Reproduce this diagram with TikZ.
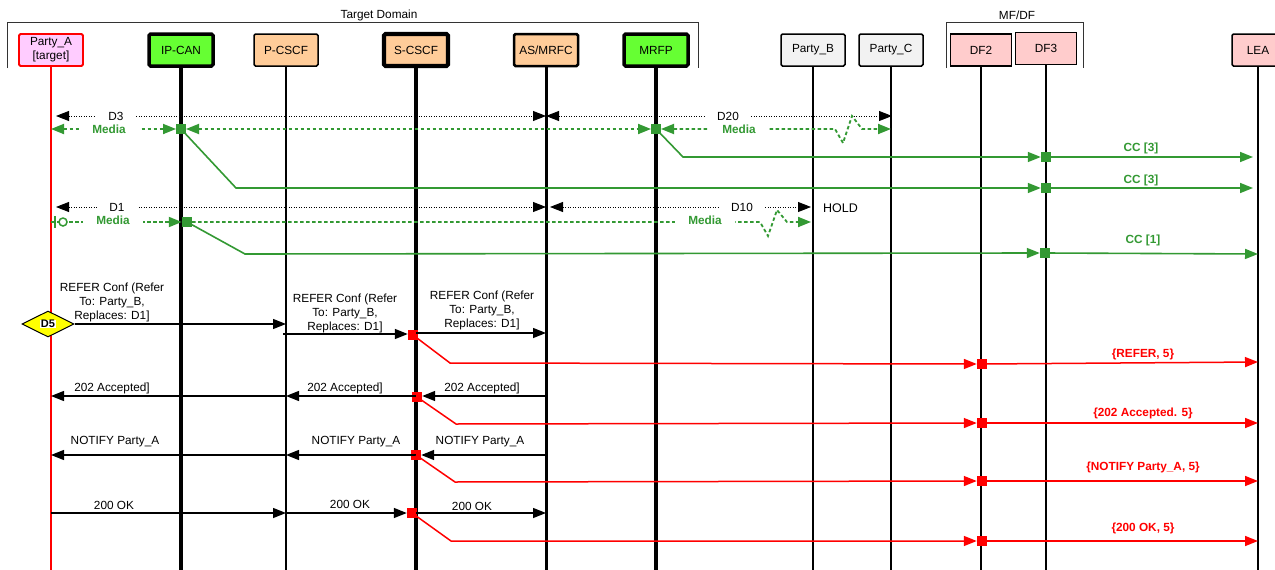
\documentclass[tikz,border=0pt]{standalone}
\usepackage{fontspec}
\setmainfont{Liberation Sans}
\usetikzlibrary{arrows.meta,shapes.geometric,calc}
\definecolor{gr}{RGB}{51,153,51}
\definecolor{grfill}{RGB}{102,255,51}
\definecolor{peach}{RGB}{255,204,153}
\definecolor{pinkA}{RGB}{255,204,255}
\definecolor{pinkD}{RGB}{255,204,204}
\definecolor{lgray}{RGB}{242,242,242}
\definecolor{dyellow}{RGB}{255,255,0}
\begin{document}
\begin{tikzpicture}[x=1pt,y=-1pt,
  every node/.style={font=\fontsize{11.8}{14}\selectfont},
  ent/.style={draw, rounded corners=1.5pt, minimum width=64pt, minimum height=32pt, inner sep=0pt, align=center},
  tipE/.style={-{Triangle[length=13pt,width=10pt]}},
  tipB/.style={{Triangle[length=13pt,width=10pt]}-{Triangle[length=13pt,width=10pt]}},
  msg/.style={line width=1.4pt},
  dotl/.style={line width=0.9pt, dash pattern=on 1.2pt off 1.3pt},
  gdash/.style={draw=gr, line width=1.8pt, dash pattern=on 3.5pt off 2.5pt},
  gline/.style={draw=gr, line width=1.6pt},
  rline/.style={draw=red, line width=1.5pt},
  gsq/.style={fill=gr, minimum size=10pt, inner sep=0pt},
  rsq/.style={fill=red, minimum size=10pt, inner sep=0pt},
  dlab/.style={fill=white, inner xsep=12pt, inner ysep=1pt},
  mlab/.style={fill=white, text=gr, font=\fontsize{11.8}{14}\selectfont\bfseries, inner xsep=13pt, inner ysep=1pt},
  lab/.style={inner sep=0pt, align=center},
  glab/.style={inner sep=0pt, text=gr, font=\fontsize{11.8}{14}\selectfont\bfseries},
  rlab/.style={inner sep=0pt, text=red, font=\fontsize{11.8}{14}\selectfont\bfseries},
]
\fill[white] (0,0) rectangle (1275,570);
\useasboundingbox (0,0) rectangle (1275,570);

% domain brackets
\draw[line width=1pt, black!80] (7,68) |- (698,22) -- (698,68);
\node (tdlab) at (379,15) {Target Domain};
\draw[line width=1pt, black!80] (946,68) |- (1083,22) -- (1083,68);
\node (mflab) at (1017,15) {MF/DF};

% entities
\node[ent, fill=pinkA, draw=red, line width=1.8pt] (pa) at (51,50) {Party\_A\\{}[target]};
\node[ent, fill=grfill, line width=3.5pt] (ipcan) at (181,50) {IP-CAN};
\node[ent, fill=peach, line width=1.5pt] (pcscf) at (286,50) {P-CSCF};
\node[ent, fill=peach, line width=4.2pt] (scscf) at (416,50) {S-CSCF};
\node[ent, fill=peach, line width=2.5pt] (asm) at (546,50) {AS/MRFC};
\node[ent, fill=grfill, line width=3.5pt] (mrfp) at (656,50) {MRFP};
\node[ent, fill=lgray, line width=1.5pt] (pb) at (813,50) {Party\_B};
\node[ent, fill=lgray, line width=1.5pt] (pc) at (891,50) {Party\_C};
\node[ent, fill=pinkD, line width=1.8pt, minimum width=61pt, rounded corners=0pt] (df2) at (981,50) {DF2};
\node[ent, fill=pinkD, line width=1.8pt, minimum width=61pt, rounded corners=0pt] (df3) at (1046,48.5) {DF3};
\node[ent, fill=pinkD, line width=1.5pt, minimum width=52pt] (lea) at (1258,50) {LEA};

% lifelines
\coordinate (bot) at (0,572);
\draw[red, line width=1.8pt] (pa.south) -- (pa.south |- bot);
\draw[line width=3.8pt] (ipcan.south) -- (ipcan.south |- bot);
\draw[line width=1.8pt] (pcscf.south) -- (pcscf.south |- bot);
\draw[line width=4.5pt] (scscf.south) -- (scscf.south |- bot);
\draw[line width=3pt] (asm.south) -- (asm.south |- bot);
\draw[line width=3.8pt] (mrfp.south) -- (mrfp.south |- bot);
\draw[line width=1.8pt] (pb.south) -- (pb.south |- bot);
\draw[line width=1.8pt] (pc.south) -- (pc.south |- bot);
\draw[line width=1.8pt] (df2.south) -- (df2.south |- bot);
\draw[line width=1.8pt] (df3.south) -- (df3.south |- bot);
\draw[line width=1.8pt] (lea.south) -- (lea.south |- bot);

% rows
\coordinate (rD3) at (0,116);
\coordinate (rM1) at (0,129);
\coordinate (rC3a) at (0,157);
\coordinate (rC3b) at (0,188);
\coordinate (rD1) at (0,207);
\coordinate (rM2) at (0,222);
\coordinate (rC1) at (0,254);
\coordinate (rR1) at (0,324);
\coordinate (rR2) at (0,334);
\coordinate (rR3) at (0,333);
\coordinate (r202) at (0,396);
\coordinate (rNo) at (0,455);
\coordinate (rOK) at (0,513);

% green squares
\node[gsq] (sq1) at (ipcan |- rM1) {};
\node[gsq] (sq3) at (mrfp |- rM1) {};
\node[gsq] (sq2) at ($(ipcan |- rM2)+(6,0)$) {};
\node[gsq] (c1) at (df3 |- rC3a) {};
\node[gsq] (c2) at (df3 |- rC3b) {};
\node[gsq] (c3) at ($(df3 |- rC1)+(-1,-1)$) {};

% red squares
\node[rsq] (s1) at ($(scscf |- rR2)+(-3,1)$) {};
\node[rsq] (s2) at ($(scscf |- r202)+(1,1)$) {};
\node[rsq] (s3) at (scscf |- rNo) {};
\node[rsq] (s4) at ($(scscf |- rOK)+(-4,0)$) {};
\node[rsq] (t1) at ($(df2 |- rR2)+(1,30)$) {};
\node[rsq] (t2) at ($(df2 |- r202)+(1,27)$) {};
\node[rsq] (t3) at ($(df2 |- rNo)+(1,26)$) {};
\node[rsq] (t4) at ($(df2 |- rOK)+(1,28)$) {};

% D3 / D20 dialogs
\draw[dotl, tipB, shorten <=5pt] (pa |- rD3) -- (asm |- rD3);
\draw[dotl, tipB] (asm |- rD3) -- ($(pc |- rD3)+(1,0)$);
\node[dlab] (d3l) at (116,116) {D3};
\node[dlab] (d20l) at (728,116) {D20};

% media row 1
\draw[gdash, tipB, shorten >=5pt] (pa |- rM1) -- (sq1.center);
\draw[gdash, tipB, shorten <=5pt, shorten >=5pt] (sq1.center) -- (sq3.center);
\draw[gdash, tipB, shorten <=5pt] (sq3.center) -- (835,129) -- (843,143) -- (852,116) -- (862,129) -- (pc |- rM1);
\node[mlab] (m1a) at (109,129) {Media};
\node[mlab] (m1b) at (739,129) {Media};

% D1 / D10 dialogs
\draw[dotl, tipB, shorten <=5pt] (pa |- rD1) -- (asm |- rD1);
\draw[dotl, tipB, shorten <=4pt, shorten >=2pt] (asm |- rD1) -- (pb |- rD1);
\node[dlab] (d1l) at (117,207) {D1};
\node[dlab] (d10l) at (742,207) {D10};
\node[anchor=west, inner sep=0pt, font=\fontsize{12.5}{14}\selectfont] (hold) at (823,208) {HOLD};

% media row 2
\draw[gdash, tipE] (pa |- rM2) -- (sq2.west);
\draw[gdash, tipE, shorten >=2pt] (sq2.east) -- (760,222) -- (768,236) -- (777,210) -- (787,222) -- (pb |- rM2);
\draw[gr, line width=1.5pt] (55,216) -- (55,228);
\draw[gr, line width=1.5pt, fill=white] (63,222) circle (4);
\node[mlab] (m2a) at (113,220) {Media};
\node[mlab] (m2b) at (705,220) {Media};

% CC lines
\draw[gline, tipE] (sq3.center) -- (683,157) -- (c1.west);
\draw[gline, tipE] (c1.center) -- ($(lea |- rC3a)+(-5,0)$);
\draw[gline, tipE] (sq1.center) -- (236,188) -- (c2.west);
\draw[gline, tipE] (c2.center) -- ($(lea |- rC3b)+(-5,0)$);
\draw[gline, tipE] (sq2.center) -- (245,254) -- (c3.west);
\draw[gline, tipE] (c3.center) -- (lea |- rC1);
\node[glab] (cc1) at (1141,148) {CC [3]};
\node[glab] (cc2) at (1141,180) {CC [3]};
\node[glab] (cc3) at (1143,240) {CC [1]};

% REFER
\node[diamond, draw, fill=dyellow, line width=1pt, minimum width=52pt, minimum height=26pt, inner sep=0pt] (d5) at (48,324) {};
\node[fill=white, inner sep=0.5pt, font=\fontsize{11}{12}\selectfont\bfseries] (d5t) at (d5) {D5};
\draw[msg, tipE] (d5.east) -- (pcscf |- rR1);
\draw[msg, tipE] ($(pcscf |- rR2)+(-3,0)$) -- (s1.west |- rR2);
\draw[msg, tipE] (scscf |- rR3) -- (asm |- rR3);
\node[lab] (l1) at (112,302.5) {REFER Conf (Refer\\To: Party\_B,\\Replaces: D1]};
\node[lab] (l2) at (345,313) {REFER Conf (Refer\\To: Party\_B,\\Replaces: D1]};
\node[lab] (l3) at (482,310.5) {REFER Conf (Refer\\To: Party\_B,\\Replaces: D1]};
\draw[rline, tipE] (s1.center) -- (450,363) -- (t1.west);
\draw[rline, tipE] (t1.center) -- ($(lea |- rR1)+(0,38)$);
\node[rlab] (x1) at (1143,354) {\{REFER, 5\}};

% 202 Accepted
\draw[msg, tipE] (asm |- r202) -- (s2.east |- r202);
\draw[msg, tipE] (scscf |- r202) -- (pcscf |- r202);
\draw[msg, tipE] (pcscf |- r202) -- (pa |- r202);
\node[lab] (a1) at (112,388) {202 Accepted]};
\node[lab] (a2) at (345,388) {202 Accepted]};
\node[lab] (a3) at (482,388) {202 Accepted]};
\draw[rline, tipE] (s2.center) -- (456,424) -- (t2.west);
\draw[rline, tipE] (t2.center) -- (lea |- t2);
\node[rlab] (x2) at (1143,413) {\{202 Accepted. 5\}};

% NOTIFY
\draw[msg, tipE] (asm |- rNo) -- (s3.east);
\draw[msg, tipE] (scscf |- rNo) -- (pcscf |- rNo);
\draw[msg, tipE] (pcscf |- rNo) -- (pa |- rNo);
\node[lab] (n1) at (115,442) {NOTIFY Party\_A};
\node[lab] (n2) at (356,442) {NOTIFY Party\_A};
\node[lab] (n3) at (480,442) {NOTIFY Party\_A};
\draw[rline, tipE] (s3.center) -- (455,482) -- (t3.west);
\draw[rline, tipE] (t3.center) -- (lea |- t3);
\node[rlab] (x3) at (1143,467) {\{NOTIFY Party\_A, 5\}};

% 200 OK
\draw[msg, tipE] (pa |- rOK) -- (pcscf |- rOK);
\draw[msg, tipE] (pcscf |- rOK) -- (s4.west);
\draw[msg, tipE] (scscf |- rOK) -- (asm |- rOK);
\node[lab] (k1) at (114,505) {200 OK};
\node[lab] (k2) at (350,504) {200 OK};
\node[lab] (k3) at (472,506) {200 OK};
\draw[rline, tipE] (s4.center) -- (451,541) -- (t4.west);
\draw[rline, tipE] (t4.center) -- (lea |- t4);
\node[rlab] (x4) at (1143,528) {\{200 OK, 5\}};
\end{tikzpicture}
\end{document}
